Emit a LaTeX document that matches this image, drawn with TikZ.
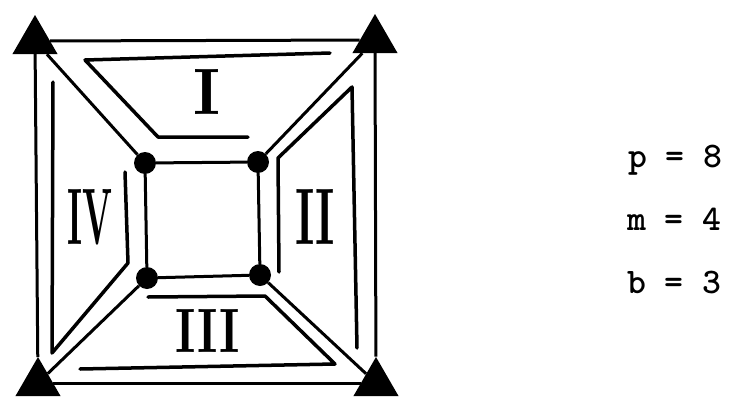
\documentclass[tikz,border=0pt]{standalone}
\usepackage{fontspec}
\usepackage{graphicx}
\usetikzlibrary{shapes.geometric}

\begin{document}
\begin{tikzpicture}[
    x=1pt, y=-1pt,
    edge/.style={line width=3pt},
    trace/.style={line width=3.5pt, line cap=round, line join=round},
    corner/.style={regular polygon, regular polygon sides=3, fill, inner sep=0pt, minimum size=52pt},
    dot/.style={circle, fill, inner sep=0pt, minimum size=22pt},
    numeral/.style={inner sep=0pt},
    count/.style={anchor=base west, inner sep=0pt, font=\ttfamily\bfseries\fontsize{36}{36}\selectfont},
]
    \useasboundingbox (0,0) rectangle (729,402);

    % outer corners
    \node[corner] (tl) at (35,41) {};
    \node[corner] (tr) at (375,40) {};
    \node[corner] (br) at (376,383) {};
    \node[corner] (bl) at (38,383) {};

    % inner square
    \node[dot] (p1) at (145,163) {};
    \node[dot] (p2) at (258,162) {};
    \node[dot] (p3) at (260,275) {};
    \node[dot] (p4) at (147,278) {};

    % edges
    \draw[edge] (tl) -- (tr);
    \draw[edge] (tr) -- (br);
    \draw[edge] (br) -- (bl);
    \draw[edge] (bl) -- (tl);
    \draw[edge] (p1) -- (p2);
    \draw[edge] (p2) -- (p3);
    \draw[edge] (p3) -- (p4);
    \draw[edge] (p4) -- (p1);
    \foreach \o/\i in {tl/p1, tr/p2, br/p3, bl/p4}
        \draw[edge] (\o) -- (\i);

    % face traces
    \draw[trace] (330,53) -- (85,60) -- (158,137) -- (248,137);
    \draw[trace] (279,272) -- (278,158) -- (352,87) -- (357,348);
    \draw[trace] (148,297) -- (265,296) -- (335,364) -- (80,369);
    \draw[trace] (53,82) -- (52,353) -- (128,263) -- (125,172);

    % face labels
    \node[numeral] (one) at (207,92) {\resizebox{27pt}{45pt}{\bfseries I}};
    \node[numeral] (two) at (315,217) {\resizebox{40pt}{55pt}{\bfseries II}};
    \node[numeral] (three) at (208,331) {\resizebox{64pt}{43pt}{\bfseries III}};
    \node[numeral] (four) at (90,217) {\resizebox{45pt}{55pt}{\bfseries IV}};

    % counts
    \node[count] (p) at (628,167) {p = 8};
    \node[count] (m) at (627,230) {m = 4};
    \node[count] (b) at (627,293) {b = 3};
\end{tikzpicture}
\end{document}
